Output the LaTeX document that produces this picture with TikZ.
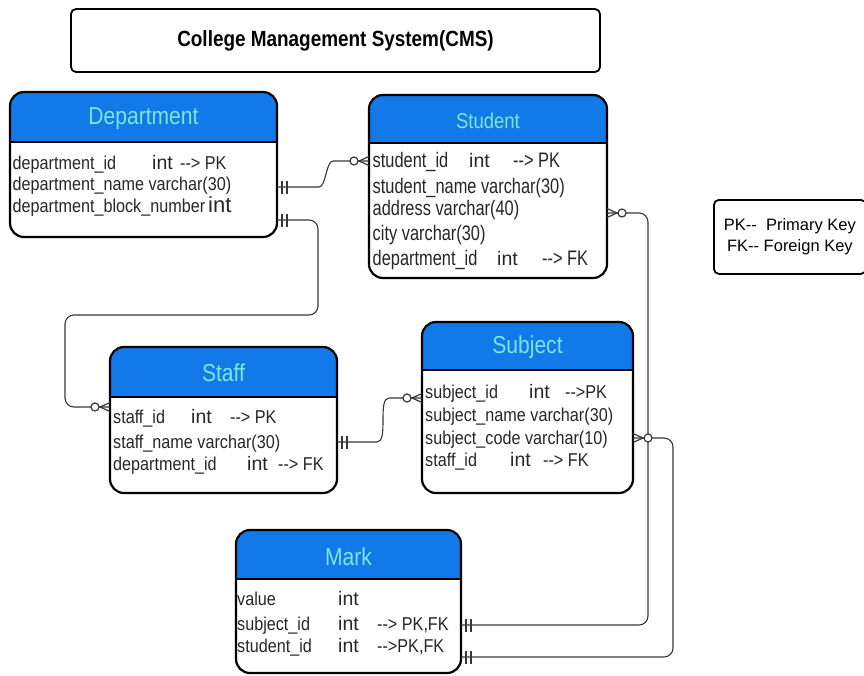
\documentclass[tikz,border=0pt]{standalone}
\usepackage{fontspec}
\setmainfont{Liberation Sans}[Ligatures=TeXOff]
\newfontfamily\narrowfont{Liberation Sans}[Ligatures=TeXOff,FakeStretch=0.87]
\newfontfamily\studfont{Liberation Sans}[Ligatures=TeXOff,FakeStretch=0.78]
\newfontfamily\headfont{Liberation Sans}[Ligatures=TeXOff,FakeStretch=0.86]
\usepackage{tikz}
\usetikzlibrary{calc,positioning,decorations.markings}
\definecolor{myblue}{RGB}{18,122,232}
\definecolor{mycyan}{RGB}{125,228,222}
\definecolor{mygrey}{RGB}{55,55,55}
\newcommand{\intfont}{\normalfont\fontsize{19.5}{20}\selectfont}
\tikzset{
  box/.style={inner sep=0pt,outer sep=0pt,anchor=north west},
  tablehead/.style={text=mycyan,font=\headfont\fontsize{24.5}{26}\selectfont},
  field/.style={anchor=base west,inner sep=0pt,text=black!85,font=\narrowfont\fontsize{18.6}{20}\selectfont},
  studfield/.style={field,font=\studfont\fontsize{21}{22}\selectfont},
  endmark/.style={draw=mygrey,line width=1.2pt,sharp corners},
  relation/.style={draw=mygrey,line width=1.1pt,rounded corners=9pt,
    postaction={decorate,decoration={markings,
      mark=at position 5pt with {\draw[endmark] (0,-6.5pt) -- (0,6.5pt);},
      mark=at position 10pt with {\draw[endmark] (0,-6.5pt) -- (0,6.5pt);},
      mark=at position -0.5pt with {\draw[endmark,fill=white] (-14.5pt,0) circle (4pt);
        \draw[endmark] (0.5pt,4.5pt) -- (-9.5pt,0) -- (0.5pt,-4.5pt);}}}}
}
\begin{document}
\begin{tikzpicture}[x=1pt,y=-1pt]
\useasboundingbox (0,0) rectangle (864,675);

% title
\node[draw,line width=1.8pt,rounded corners=5pt,minimum width=529pt,minimum height=63pt,
  font=\headfont\bfseries\fontsize{22}{24}\selectfont] (title) at (335.5,40.5) {College Management System(CMS)};

% tables
\node[box,minimum width=267pt,minimum height=145pt] (dept) at (10,92) {};
\node[box,minimum width=238pt,minimum height=183pt] (stud) at (369,95) {};
\node[box,minimum width=227pt,minimum height=146pt] (staff) at (110,347) {};
\node[box,minimum width=211pt,minimum height=171pt] (subj) at (422,322) {};
\node[box,minimum width=225pt,minimum height=143pt] (mrk) at (236,530) {};

\foreach \t/\h in {dept/50,stud/48,staff/50,subj/48,mrk/49}{
  \begin{scope}
    \clip[rounded corners=14pt] (\t.south west) rectangle (\t.north east);
    \fill[myblue] (\t.north west) rectangle ($(\t.north east)+(0,\h)$);
  \end{scope}
  \draw[line width=1.6pt] ($(\t.north west)+(0,\h)$) -- ($(\t.north east)+(0,\h)$);
  \draw[line width=2.2pt,rounded corners=14pt] (\t.south west) rectangle (\t.north east);
}

\node[tablehead] (depthead) at ($(dept.north)+(0,27)$) {Department};
\node[tablehead,font=\headfont\fontsize{21.5}{24}\selectfont] (studhead) at ($(stud.north)+(0,26)$) {Student};
\node[tablehead] (staffhead) at ($(staff.north)+(0,26)$) {Staff};
\node[tablehead] (subjhead) at ($(subj.north)+(0,25)$) {Subject};
\node[tablehead] (mrkhead) at ($(mrk.north)+(0,27)$) {Mark};

% Department
\node[field] (deptid) at (12.5,169) {\makebox[139.5pt][l]{department\_id}\makebox[28pt][l]{\intfont int}--> PK};
\node[field] (deptname) at (12.5,190) {department\_name varchar(30)};
\node[field] (deptblock) at (12.5,212) {\makebox[195.5pt][l]{department\_block\_number}{\normalfont\fontsize{22}{22}\selectfont int}};

% Student
\node[studfield] (studid) at (372.5,167) {\makebox[96.5pt][l]{student\_id}\makebox[44pt][l]{\intfont int}--> PK};
\node[studfield] (studname) at (372.5,193) {student\_name varchar(30)};
\node[studfield] (studaddr) at (372.5,215) {address varchar(40)};
\node[studfield] (studcity) at (372.5,240) {city varchar(30)};
\node[studfield] (studdept) at (372.5,265) {\makebox[124.5pt][l]{department\_id}\makebox[45pt][l]{\intfont int}--> FK};

% Staff
\node[field] (staffid) at (113,423) {\makebox[78pt][l]{staff\_id}\makebox[39pt][l]{\intfont int}--> PK};
\node[field] (staffname) at (113,448) {staff\_name varchar(30)};
\node[field] (staffdept) at (113,470) {\makebox[134pt][l]{department\_id}\makebox[31pt][l]{\intfont int}--> FK};

% Subject
\node[field] (subjid) at (425,398) {\makebox[104pt][l]{subject\_id}\makebox[36pt][l]{\intfont int}-->PK};
\node[field] (subjname) at (425,421) {subject\_name varchar(30)};
\node[field] (subjcode) at (425,444) {subject\_code varchar(10)};
\node[field] (subjstaff) at (425,466) {\makebox[85pt][l]{staff\_id}\makebox[33pt][l]{\intfont int}--> FK};

% Mark
\node[field] (mrkval) at (237,605) {\makebox[101pt][l]{value}{\intfont int}};
\node[field] (mrksub) at (237,630) {\makebox[101pt][l]{subject\_id}\makebox[39pt][l]{\intfont int}--> PK,FK};
\node[field] (mrkstu) at (237,652) {\makebox[101pt][l]{student\_id}\makebox[39pt][l]{\intfont int}-->PK,FK};

% legend
\node[draw,line width=1.8pt,rounded corners=5pt,minimum width=152pt,minimum height=74pt,anchor=north west,
  align=center,font=\fontsize{16.5}{21}\selectfont] (legend) at (713,199) {PK--\ \ Primary Key\\FK-- Foreign Key};

% relations (one side first)
\draw[relation] ($(dept.north east)+(0,95)$) -- ++(33,0) to[out=0,in=180] ($(stud.north west)+(-27,66)$) -- ($(stud.north west)+(0,66)$);
\draw[relation] ($(dept.south east)+(0,-17)$) -| ($(dept.south east)+(41,78)$) -| ($(staff.north west)+(-45,60)$) -- ($(staff.north west)+(0,60)$);
\draw[relation] ($(staff.north east)+(0,95)$) -- ++(31,0) to[out=0,in=180] ($(subj.north west)+(-24,76)$) -- ($(subj.north west)+(0,76)$);
\draw[relation] ($(mrk.north east)+(0,95)$) -| ($(stud.north east)+(41,118)$) -- ($(stud.north east)+(0,118)$);
\draw[relation] ($(mrk.north east)+(0,127)$) -| ($(subj.north east)+(40,116)$) -- ($(subj.north east)+(0,116)$);
\end{tikzpicture}
\end{document}
